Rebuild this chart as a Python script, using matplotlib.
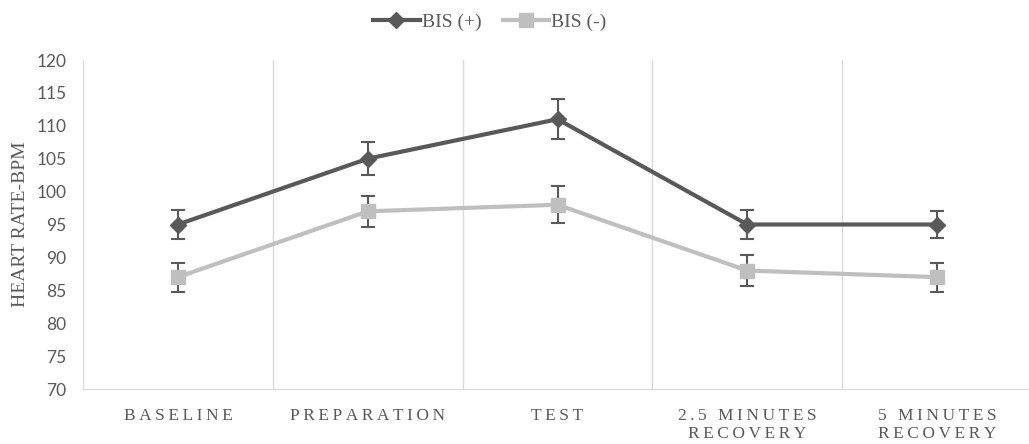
import matplotlib
matplotlib.use("Agg")
import matplotlib.pyplot as plt
from matplotlib.lines import Line2D
import numpy as np

categories = ["BASELINE", "PREPARATION", "TEST", "2.5 MINUTES\nRECOVERY", "5 MINUTES\nRECOVERY"]
bis_pos = [95, 105, 111, 95, 95]
bis_pos_err = [2.2, 2.5, 3.0, 2.2, 2.1]
bis_neg = [87, 97, 98, 88, 87]
bis_neg_err = [2.2, 2.4, 2.8, 2.3, 2.2]
yticks = [70, 75, 80, 85, 90, 95, 100, 105, 110, 115, 120]

dark = "#595959"
light = "#BFBFBF"
serif = ["Liberation Serif", "DejaVu Serif"]

def spaced(s):
    return "\n".join("\u2009".join(list(line)) for line in s.split("\n"))

fig = plt.figure(figsize=(10.29, 4.44), dpi=100)
ax = fig.add_axes([83/1029, 1 - 389/444, (1032-83)/1029, (389-60)/444])

x = np.arange(len(categories))
ax.errorbar(x, bis_pos, yerr=bis_pos_err, color=dark, lw=3, marker="D", ms=8,
            ecolor=dark, elinewidth=1.5, capsize=5, capthick=1.5, zorder=3)
ax.errorbar(x, bis_neg, yerr=bis_neg_err, color=light, lw=3, marker="s", ms=10,
            ecolor=dark, elinewidth=1.5, capsize=5, capthick=1.5, zorder=3)

ax.set_xlim(-0.5, len(categories) - 0.5)
ax.set_ylim(70, 120)
ax.set_yticks(yticks)
ax.set_yticklabels([str(v) for v in yticks], fontfamily="Lato", fontsize=12.5, color="#595959")
ax.set_xticks(x)
ax.set_xticklabels([spaced(c) for c in categories], fontfamily=serif, fontsize=12.5,
                   color="#595959", linespacing=1.15)
ax.tick_params(axis="both", length=0)
ax.tick_params(axis="x", pad=14)
ax.tick_params(axis="y", pad=12)

for b in np.arange(0.5, len(categories) - 0.5, 1):
    ax.axvline(b, color="#D9D9D9", lw=1, zorder=0)

for s in ["top", "right"]:
    ax.spines[s].set_visible(False)
ax.spines["left"].set_color("#D9D9D9")
ax.spines["bottom"].set_color("#D9D9D9")

ax.set_ylabel("HEART RATE-BPM", fontfamily=serif, fontsize=14, color="#595959", labelpad=5)

handles = [Line2D([], [], color=dark, lw=3, marker="D", ms=8),
           Line2D([], [], color=light, lw=3, marker="s", ms=10)]
fig.legend(handles, ["BIS (+)", "BIS (-)"], loc="upper center", bbox_to_anchor=(0.476, 1.01),
           ncol=2, frameon=False, prop={"family": serif, "size": 14}, labelcolor="#595959",
           handlelength=2.4, columnspacing=1.1, handletextpad=0.1)

fig.savefig("out.png", dpi=100)
